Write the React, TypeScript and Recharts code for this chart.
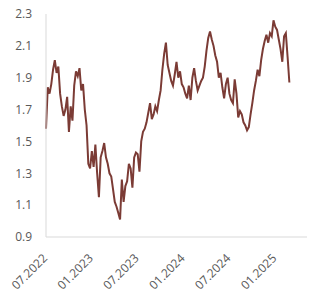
import React from "react";
import { LineChart, Line, XAxis, YAxis } from "recharts";

// weekly observations starting 07.2022
const values: number[] = [
  1.58, 1.84, 1.80, 1.86, 1.95, 2.01, 1.93, 1.97, 1.80, 1.72,
  1.66, 1.70, 1.78, 1.56, 1.72, 1.63, 1.85, 1.94, 1.91, 1.96,
  1.82, 1.86, 1.70, 1.60, 1.36, 1.33, 1.44, 1.34, 1.48, 1.30,
  1.15, 1.40, 1.44, 1.49, 1.40, 1.36, 1.30, 1.28, 1.20, 1.12,
  1.09, 1.05, 1.01, 1.26, 1.12, 1.22, 1.25, 1.36, 1.33, 1.21,
  1.40, 1.43, 1.42, 1.31, 1.50, 1.56, 1.58, 1.62, 1.68, 1.74,
  1.64, 1.67, 1.72, 1.69, 1.76, 1.82, 1.95, 2.05, 2.12, 1.98,
  1.93, 1.88, 1.85, 1.92, 2.00, 1.90, 1.94, 1.86, 1.84, 1.80,
  1.77, 1.85, 1.76, 1.90, 1.96, 1.88, 1.82, 1.85, 1.88, 1.90,
  1.97, 2.07, 2.15, 2.19, 2.14, 2.10, 2.04, 2.00, 1.90, 1.93,
  1.84, 1.77, 1.86, 1.90, 1.80, 1.76, 1.74, 1.89, 1.80, 1.65,
  1.69, 1.67, 1.62, 1.60, 1.57, 1.59, 1.67, 1.74, 1.82, 1.88,
  1.95, 1.91, 2.01, 2.08, 2.13, 2.17, 2.12, 2.18, 2.16, 2.26,
  2.22, 2.20, 2.14, 2.08, 2.00, 2.16, 2.18, 2.03, 1.87,
];

const tickWeeks: number[] = [0, 26, 52, 78, 104, 130];
const tickLabels: string[] = ["07.2022", "01.2023", "07.2023", "01.2024", "07.2024", "01.2025"];
const yTicks: number[] = [0.9, 1.1, 1.3, 1.5, 1.7, 1.9, 2.1, 2.3];

const data = values.map((v, i) => ({ week: i, value: v }));

const FONT = "'Open Sans', sans-serif";

const XTick = (props: any) => {
  const { x, y, payload } = props;
  const idx = tickWeeks.indexOf(payload.value);
  const px = x + 2;
  const py = y + 14;
  return (
    <text
      x={px}
      y={py}
      transform={`rotate(-45, ${px}, ${py})`}
      textAnchor="end"
      fill="#595959"
      fontSize={12}
      fontFamily={FONT}
    >
      {idx >= 0 ? tickLabels[idx] : ""}
    </text>
  );
};

export default function App() {
  return (
    <div style={{ position: "relative", top: -6 }}>
      <LineChart
        width={314}
        height={296}
        data={data}
        margin={{ top: 12, right: 15, bottom: 0, left: 0 }}
        style={{ overflow: "visible" }}
      >
        <XAxis
          dataKey="week"
          type="number"
          domain={[0, 148]}
          ticks={tickWeeks}
          tick={<XTick />}
          tickLine={false}
          axisLine={{ stroke: "#d9d9d9" }}
          height={61}
          interval={0}
        />
        <YAxis
          domain={[0.9, 2.3]}
          ticks={yTicks}
          tickFormatter={(v: number) => v.toFixed(1)}
          tick={{ fill: "#595959", fontSize: 12, fontFamily: FONT }}
          tickLine={false}
          tickMargin={8}
          axisLine={{ stroke: "#d9d9d9" }}
          width={38}
          interval={0}
        />
        <Line
          type="linear"
          dataKey="value"
          stroke="#7b3b35"
          strokeWidth={2}
          dot={false}
          isAnimationActive={false}
        />
      </LineChart>
    </div>
  );
}
